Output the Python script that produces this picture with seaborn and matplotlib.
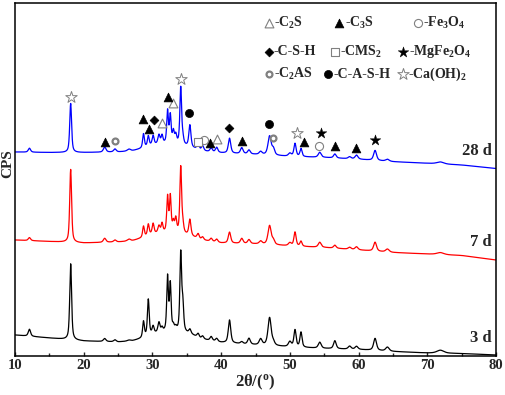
import numpy as np
import pandas as pd
import matplotlib
matplotlib.use("Agg")
import matplotlib.pyplot as plt
import seaborn as sns

# background knots (2theta) and background level of each pattern
bg_tt = [10, 15, 20, 25, 27, 28.5, 30, 33, 35.5, 37, 40, 45, 50, 55, 60, 65, 70, 75, 80]
bg_28d = [204, 203.5, 203.5, 204, 205, 207.5, 211, 213, 208.5, 205, 203, 201.5, 199.5, 198.5, 196.7, 194.3, 192.7, 191, 187.5]
bg_7d = [116, 114.5, 113, 114, 115, 118, 122, 124, 120, 116, 113, 112, 110, 108.5, 106, 103.5, 102, 100.5, 96]
bg_3d = [21, 18, 15, 14, 15, 17.5, 22, 25, 22, 17, 13.5, 11, 9, 7.5, 6.5, 4.5, 3, 2.5, 1]

# reflections: position, width (FWHM) and height for each age
peak_pos = [12.1, 18.1, 23.05, 24.55, 26.6, 28.7, 29.4, 30.1, 30.95, 31.4, 32.2, 32.6, 33.05, 33.4,
            34.12, 34.42, 35.45, 36.65, 37.3, 38.55, 39.35, 41.22, 43.0, 44.05, 45.75, 47.05, 47.6,
            50.0, 50.75, 51.62, 54.35, 56.55, 58.7, 59.7, 62.4, 64.2, 71.9]
peak_fwhm = [0.4, 0.32, 0.45, 0.45, 0.6, 0.3, 0.3, 0.32, 0.36, 0.3, 0.28, 0.28, 0.3, 0.3,
             0.3, 0.3, 0.36, 0.4, 0.4, 0.4, 0.4, 0.42, 0.45, 0.45, 0.5, 0.55, 0.45,
             0.5, 0.38, 0.36, 0.5, 0.45, 0.5, 0.5, 0.5, 0.6, 1.2]
h_28d = [4, 49, 5, 3, 2, 14, 10, 9, 9, 8, 32, 27, 11, 8,
         57, 6, 22, 6, 5, 4, 5, 15, 6, 4, 3, 19, 6,
         3, 13, 8, 5, 4, 2, 4, 10, 2, 2]
h_7d = [3, 73, 4, 2, 2, 11, 11, 10, 7, 9, 35, 35, 9, 13,
        66, 8, 16, 5, 3, 3, 3, 11, 5, 4, 3, 19, 4,
        3, 14, 5, 5, 3, 2, 3, 9, 3, 2]
h_3d = [7, 76, 3, 2, 1, 16, 36, 7, 10, 4, 54, 46, 4, 3,
        78, 26, 4, 4, 3, 4, 3, 23, 2, 6, 6, 28, 3,
        5, 17, 15, 6, 8, 3, 3, 12, 4, 3]

ages = ["3 d", "7 d", "28 d"]
colors = {"3 d": "black", "7 d": "#ff0000", "28 d": "#0000ff"}

# phase marks on the 28 d pattern
mark_phase = ["CH", "C3S", "C2AS", "C3S", "C3S", "CSH", "C2S", "C3S", "C2S", "CH", "CASH", "CMS2",
              "Fe3O4", "C3S", "C2S", "CSH", "C3S", "CASH", "C2AS", "CH", "C3S", "MgFe2O4",
              "Fe3O4", "C3S", "C3S", "MgFe2O4"]
mark_tt = [18.1, 23.1, 24.55, 28.67, 29.5, 30.23, 31.35, 32.3, 33.04, 34.12, 35.37, 36.6,
           37.5, 38.4, 39.44, 41.19, 43.0, 47.0, 47.6, 51.0, 52.1, 54.53,
           54.3, 56.57, 59.58, 62.44]
mark_y = [259, 214.3, 215.5, 236.7, 226.7, 236, 232.7, 258.7, 253.3, 276.7, 243.3, 214.3,
          216, 213.3, 216.7, 227.7, 215, 231.7, 217.7, 222.7, 214.3, 223,
          210, 210, 208.3, 216]

# legend of phases
leg_phase = ["C2S", "C3S", "Fe3O4", "CSH", "CMS2", "MgFe2O4", "C2AS", "CASH", "CH"]
leg_text = ["-C$_2$S", "-C$_3$S", "-Fe$_3$O$_4$", "-C-S-H", "-CMS$_2$", "-MgFe$_2$O$_4$",
            "-C$_2$AS", "-C-A-S-H", "-Ca(OH)$_2$"]

grey = "#808080"
styles = {
    "C2S": dict(marker="^", s=40, facecolors="white", edgecolors=grey, linewidths=0.8),
    "C3S": dict(marker="^", s=40, facecolors="black", edgecolors="black", linewidths=0.5),
    "Fe3O4": dict(marker="o", s=34, facecolors="white", edgecolors=grey, linewidths=0.8),
    "CSH": dict(marker="D", s=20, facecolors="black", edgecolors="black", linewidths=0.5),
    "CMS2": dict(marker="s", s=26, facecolors="white", edgecolors=grey, linewidths=0.8),
    "MgFe2O4": dict(marker="*", s=65, facecolors="black", edgecolors="black", linewidths=0.3),
    "C2AS": dict(marker="o", s=18, facecolors="white", edgecolors=grey, linewidths=1.6),
    "CASH": dict(marker="o", s=34, facecolors="black", edgecolors="black", linewidths=0.5),
    "CH": dict(marker="*", s=75, facecolors="white", edgecolors=grey, linewidths=0.7),
}

sns.set_style("ticks")
plt.rcParams["font.family"] = ["Liberation Serif", "DejaVu Sans"]
plt.rcParams["font.weight"] = "bold"
plt.rcParams["mathtext.fontset"] = "custom"
plt.rcParams["mathtext.rm"] = "Liberation Serif:bold"
plt.rcParams["mathtext.bf"] = "Liberation Serif:bold"
plt.rcParams["mathtext.it"] = "Liberation Serif:italic:bold"
plt.rcParams["mathtext.default"] = "rm"


def pattern(bg, heights):
    tt = np.arange(10, 80.001, 0.02)
    y = np.interp(tt, bg_tt, bg)
    for p, w, h in zip(peak_pos, peak_fwhm, heights):
        d2 = (tt - p) ** 2 / w ** 2
        y = y + h * (0.6 / (1 + 4 * d2) + 0.4 * np.exp(-4 * np.log(2) * d2))
    return tt, y


frames = []
for age, bg, hh in zip(ages, [bg_3d, bg_7d, bg_28d], [h_3d, h_7d, h_28d]):
    tt, y = pattern(bg, hh)
    frames.append(pd.DataFrame({"tt": tt, "cps": y, "age": age}))
df = pd.concat(frames, ignore_index=True)

fig = plt.figure(figsize=(5.05, 3.95), dpi=100)
ax = fig.add_axes([15 / 505, 39 / 395, 481 / 505, 353 / 395])

sns.lineplot(data=df, x="tt", y="cps", hue="age", palette=colors, estimator=None,
             sort=False, linewidth=0.9, legend=False, ax=ax)

# phase marks
for ph in styles:
    idx = [i for i, p in enumerate(mark_phase) if p == ph]
    if idx:
        ax.scatter([mark_tt[i] for i in idx], [mark_y[i] for i in idx], zorder=5, **styles[ph])

# legend block at the top
leg_sym_x = [46.97, 57.15, 68.65, 46.97, 56.57, 66.47, 46.97, 55.55, 66.40]
leg_txt_x = [47.69, 58.03, 69.38, 47.69, 57.30, 67.34, 47.69, 56.28, 67.2]
leg_row_y = [333.3, 333.3, 333.3, 304.3, 304.3, 304.3, 282, 282, 282]
for ph, lab, sx, tx, ry in zip(leg_phase, leg_text, leg_sym_x, leg_txt_x, leg_row_y):
    ax.scatter([sx], [ry], zorder=5, **styles[ph])
    ax.text(tx, ry, lab, ha="left", va="center", fontsize=10, fontweight="bold")

# age labels
for age, yy in zip(["28 d", "7 d", "3 d"], [205, 114, 18]):
    ax.text(79.42, yy, age, ha="right", va="center", fontsize=12, fontweight="bold")

ax.set_xlim(10, 80)
ax.set_ylim(0, 353)
ax.set_xticks(range(10, 81, 10))
ax.set_xticks(range(15, 80, 10), minor=True)
ax.set_yticks([])
ax.tick_params(axis="x", which="major", direction="in", length=3, width=1, pad=2, labelsize=10.5)
ax.tick_params(axis="x", which="minor", direction="in", length=2, width=1)
for lab in ax.get_xticklabels():
    lab.set_fontweight("bold")
for sp in ax.spines.values():
    sp.set_visible(True)
    sp.set_linewidth(1.1)
    sp.set_color("black")

ax.set_xlabel("2θ/($^\\mathrm{o}$)", fontsize=12, fontweight="bold")
ax.set_ylabel("CPS", fontsize=11, fontweight="bold", va="center")
ax.xaxis.set_label_coords(0.5, -0.048)
ax.yaxis.set_label_coords(-0.0146, 0.544)

fig.savefig("out.png", dpi=100)
